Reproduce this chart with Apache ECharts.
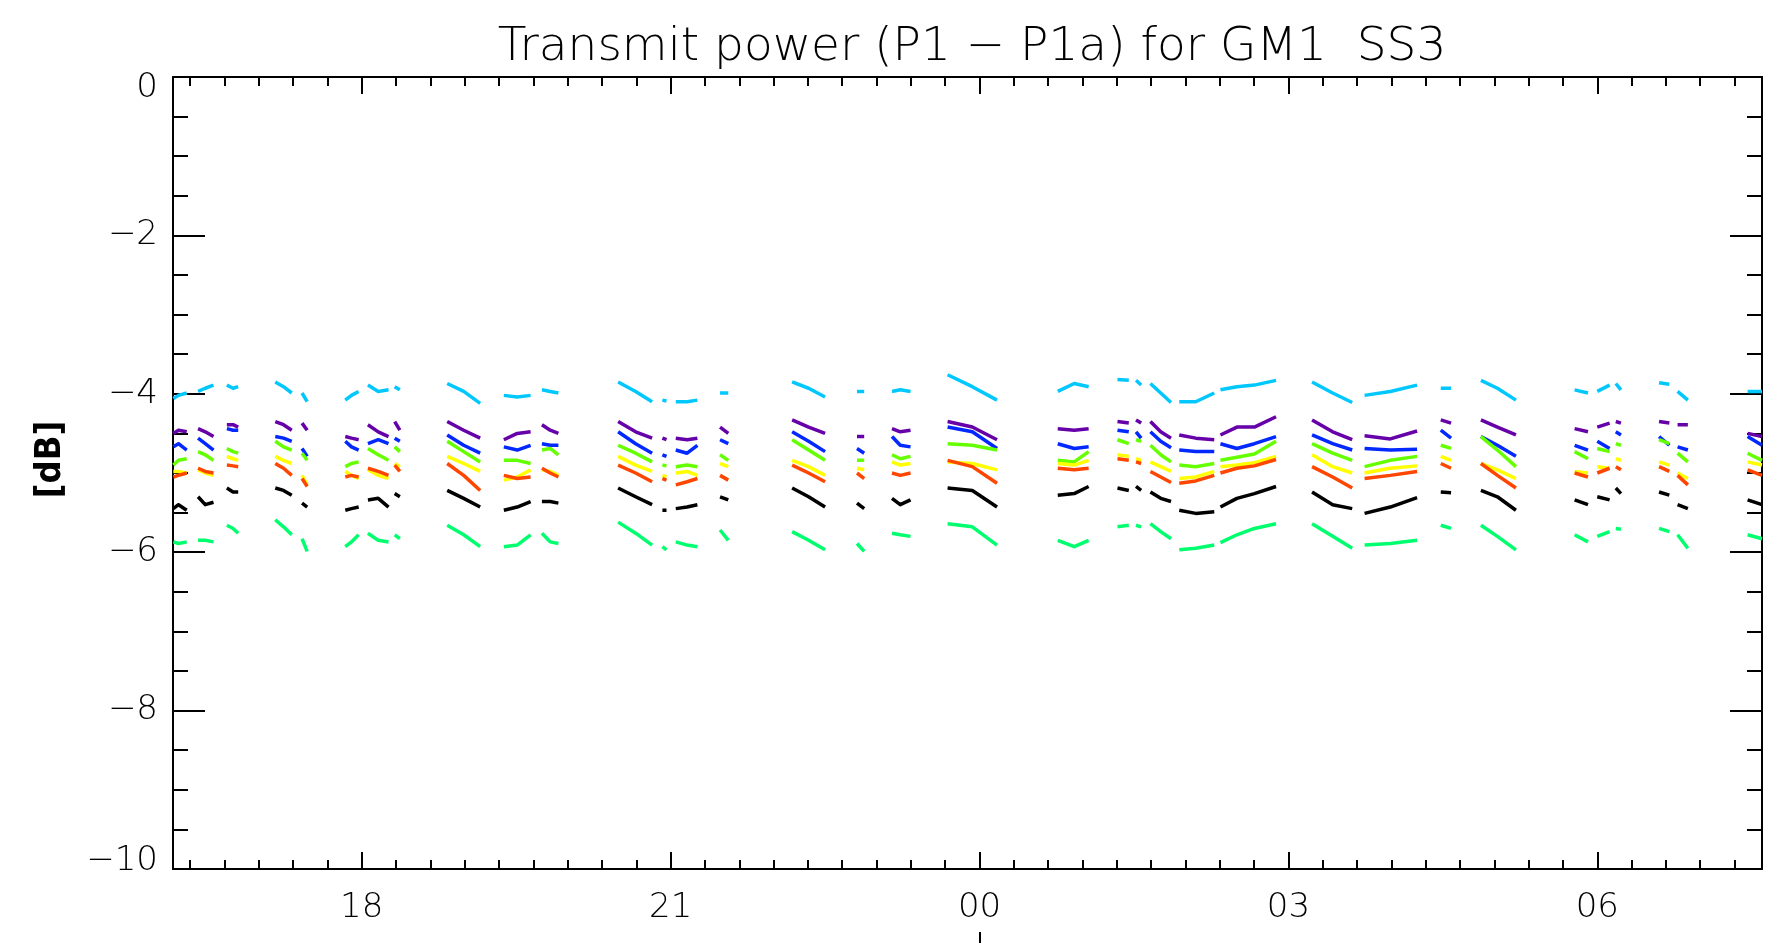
<!DOCTYPE html>
<html>
<head>
<meta charset="utf-8">
<script src="https://cdn.jsdelivr.net/npm/echarts@6/dist/echarts.min.js"></script>
<style>
html,body{margin:0;padding:0;background:#fff;}
#chart{width:1781px;height:945px;}
</style>
</head>
<body>
<div id="chart"></div>
<script>
// Time in hours relative to 00:00 (negative = previous evening)
const X_MIN = -7.8333;  // 16:10
const X_MAX = 7.6;      // 07:36
const majorTicks = [-6, -3, 0, 3, 6];
const majorTickLabels = ['18', '21', '00', '03', '06'];
const dayMarkTicks = [0];

// Sample times of each pass (hours)
const passTimes = [
  [-7.83,-7.78,-7.70],[-7.59,-7.52,-7.44],[-7.31,-7.25,-7.20],[-6.84,-6.76,-6.68],
  [-6.58,-6.53],[-6.16,-6.10,-6.03],[-5.94,-5.84,-5.74],[-5.68,-5.63],
  [-5.17,-5.01,-4.85],[-4.62,-4.49,-4.36],[-4.25,-4.17,-4.09],[-3.51,-3.34,-3.18],
  [-3.08,-3.04],[-2.95,-2.84,-2.74],[-2.52,-2.44],[-1.82,-1.66,-1.50],
  [-1.19,-1.12],[-0.85,-0.77,-0.67],[-0.31,-0.07,0.17],[0.76,0.92,1.06],
  [1.34,1.45],[1.52,1.57],[1.66,1.76,1.86],[1.94,2.10,2.28],
  [2.34,2.50,2.67,2.88],[3.23,3.43,3.62],[3.74,3.99,4.25],[4.48,4.58],
  [4.87,5.03,5.21],[5.78,5.91],[6.00,6.12],[6.18,6.23],
  [6.60,6.70],[6.78,6.88],[7.46,7.60]
];

const cyanDB = [
  [-4.06,-4.02,-3.99],[-3.97,-3.93,-3.89],[-3.89,-3.93,-3.91],[-3.85,-3.91,-3.99],
  [-3.99,-4.10],[-4.08,-4.02,-3.97],[-3.89,-3.97,-3.95],[-3.91,-3.95],
  [-3.87,-3.97,-4.12],[-4.02,-4.04,-4.02],[-3.95,-3.97,-3.99],[-3.85,-3.97,-4.10],
  [-4.08,-4.09],[-4.10,-4.10,-4.08],[-3.99,-3.99],[-3.85,-3.93,-4.04],
  [-3.97,-3.97],[-3.97,-3.95,-3.97],[-3.76,-3.91,-4.08],[-3.97,-3.87,-3.91],
  [-3.82,-3.83],[-3.83,-3.89],[-3.87,-3.99,-4.11],[-4.10,-4.10,-3.99],
  [-3.95,-3.91,-3.89,-3.83],[-3.85,-3.99,-4.11],[-4.02,-3.97,-3.89],[-3.93,-3.93],
  [-3.83,-3.93,-4.08],[-3.95,-3.99],[-3.97,-3.89],[-3.87,-3.95],
  [-3.86,-3.88],[-3.97,-4.08],[-3.97,-3.97]
];
const purpleDB = [
  [-4.50,-4.46,-4.48],[-4.44,-4.48,-4.54],[-4.39,-4.39,-4.42],[-4.35,-4.39,-4.46],
  [-4.37,-4.46],[-4.54,-4.56,-4.58],[-4.39,-4.48,-4.54],[-4.35,-4.46],
  [-4.35,-4.46,-4.56],[-4.58,-4.50,-4.48],[-4.39,-4.46,-4.50],[-4.35,-4.48,-4.56],
  [-4.56,-4.58],[-4.56,-4.58,-4.56],[-4.42,-4.50],[-4.33,-4.42,-4.50],
  [-4.54,-4.54],[-4.44,-4.48,-4.46],[-4.35,-4.42,-4.58],[-4.44,-4.46,-4.44],
  [-4.35,-4.37],[-4.33,-4.37],[-4.35,-4.48,-4.56],[-4.52,-4.56,-4.58],
  [-4.52,-4.42,-4.42,-4.29],[-4.33,-4.48,-4.58],[-4.53,-4.57,-4.47],[-4.33,-4.37],
  [-4.33,-4.42,-4.52],[-4.44,-4.48],[-4.42,-4.37],[-4.35,-4.37],
  [-4.35,-4.37],[-4.39,-4.39],[-4.50,-4.54]
];
const blueDB = [
  [-4.67,-4.63,-4.71],[-4.56,-4.63,-4.71],[-4.44,-4.46,-4.46],[-4.54,-4.56,-4.60],
  [-4.69,-4.79],[-4.60,-4.67,-4.71],[-4.63,-4.58,-4.63],[-4.56,-4.60],
  [-4.52,-4.65,-4.75],[-4.67,-4.71,-4.65],[-4.63,-4.65,-4.65],[-4.48,-4.63,-4.75],
  [-4.77,-4.79],[-4.71,-4.75,-4.65],[-4.58,-4.63],[-4.48,-4.60,-4.73],
  [-4.69,-4.75],[-4.54,-4.65,-4.67],[-4.42,-4.48,-4.69],[-4.63,-4.69,-4.67],
  [-4.46,-4.48],[-4.48,-4.56],[-4.48,-4.60,-4.68],[-4.71,-4.73,-4.73],
  [-4.63,-4.69,-4.63,-4.54],[-4.52,-4.63,-4.71],[-4.69,-4.71,-4.70],[-4.46,-4.56],
  [-4.54,-4.65,-4.79],[-4.65,-4.71],[-4.60,-4.69],[-4.48,-4.52],
  [-4.54,-4.65],[-4.67,-4.71],[-4.54,-4.65]
];
const greenDB = [
  [-4.90,-4.84,-4.82],[-4.73,-4.77,-4.84],[-4.69,-4.73,-4.75],[-4.60,-4.67,-4.71],
  [-4.75,-4.84],[-4.92,-4.88,-4.86],[-4.69,-4.77,-4.84],[-4.67,-4.73],
  [-4.60,-4.73,-4.86],[-4.84,-4.84,-4.88],[-4.71,-4.69,-4.77],[-4.65,-4.75,-4.86],
  [-4.90,-4.91],[-4.92,-4.90,-4.92],[-4.77,-4.84],[-4.58,-4.71,-4.84],
  [-4.84,-4.84],[-4.77,-4.82,-4.79],[-4.63,-4.65,-4.71],[-4.84,-4.86,-4.73],
  [-4.58,-4.63],[-4.58,-4.60],[-4.65,-4.77,-4.86],[-4.90,-4.92,-4.88],
  [-4.84,-4.80,-4.76,-4.60],[-4.63,-4.75,-4.84],[-4.92,-4.84,-4.79],[-4.65,-4.69],
  [-4.54,-4.71,-4.92],[-4.73,-4.82],[-4.69,-4.73],[-4.63,-4.65],
  [-4.58,-4.63],[-4.75,-4.86],[-4.75,-4.84]
];
const yellowDB = [
  [-4.98,-4.98,-5.00],[-4.96,-5.00,-5.03],[-4.79,-4.82,-4.84],[-4.79,-4.84,-4.88],
  [-5.03,-5.15],[-4.98,-5.03,-5.07],[-4.96,-5.03,-5.07],[-4.88,-4.92],
  [-4.79,-4.88,-4.98],[-5.09,-5.05,-4.96],[-4.96,-4.98,-5.03],[-4.79,-4.90,-4.98],
  [-5.03,-5.05],[-5.00,-4.98,-5.03],[-4.88,-4.92],[-4.84,-4.92,-5.03],
  [-4.94,-4.96],[-4.86,-4.90,-4.88],[-4.86,-4.88,-4.96],[-4.88,-4.90,-4.84],
  [-4.77,-4.79],[-4.82,-4.84],[-4.86,-4.92,-4.98],[-5.07,-5.05,-4.98],
  [-4.92,-4.90,-4.87,-4.79],[-4.77,-4.92,-5.00],[-5.00,-4.94,-4.91],[-4.79,-4.84],
  [-4.88,-4.96,-5.07],[-4.98,-5.00],[-4.92,-4.94],[-4.82,-4.84],
  [-4.86,-4.90],[-5.00,-5.07],[-4.86,-4.90]
];
const orangeDB = [
  [-5.05,-5.03,-5.00],[-4.94,-4.98,-5.00],[-4.90,-4.91,-4.92],[-4.88,-4.94,-5.03],
  [-5.07,-5.17],[-5.05,-5.03,-5.05],[-4.94,-4.98,-5.03],[-4.90,-4.98],
  [-4.88,-5.03,-5.22],[-5.03,-5.07,-5.05],[-4.94,-5.00,-5.05],[-4.90,-5.00,-5.11],
  [-5.07,-5.09],[-5.15,-5.11,-5.07],[-5.03,-5.09],[-4.90,-5.00,-5.11],
  [-5.00,-5.07],[-5.00,-5.03,-5.00],[-4.84,-4.92,-5.13],[-4.94,-4.96,-4.94],
  [-4.82,-4.84],[-4.86,-4.88],[-4.98,-5.05,-5.12],[-5.13,-5.10,-5.03],
  [-5.00,-4.94,-4.91,-4.83],[-4.92,-5.05,-5.19],[-5.07,-5.03,-4.98],[-4.88,-4.94],
  [-4.88,-5.03,-5.19],[-5.00,-5.05],[-5.00,-4.94],[-4.92,-4.96],
  [-4.92,-4.98],[-5.03,-5.15],[-4.96,-5.03]
];
const blackDB = [
  [-5.45,-5.40,-5.47],[-5.30,-5.40,-5.37],[-5.19,-5.24,-5.24],[-5.19,-5.22,-5.28],
  [-5.38,-5.43],[-5.47,-5.45,-5.43],[-5.34,-5.32,-5.43],[-5.26,-5.30],
  [-5.22,-5.32,-5.43],[-5.47,-5.43,-5.36],[-5.36,-5.36,-5.38],[-5.19,-5.30,-5.40],
  [-5.47,-5.47],[-5.45,-5.43,-5.40],[-5.30,-5.34],[-5.19,-5.30,-5.43],
  [-5.38,-5.45],[-5.32,-5.40,-5.34],[-5.19,-5.22,-5.43],[-5.28,-5.26,-5.17],
  [-5.19,-5.22],[-5.17,-5.22],[-5.24,-5.32,-5.36],[-5.47,-5.51,-5.49],
  [-5.43,-5.32,-5.26,-5.17],[-5.24,-5.40,-5.45],[-5.51,-5.43,-5.31],[-5.24,-5.25],
  [-5.22,-5.30,-5.47],[-5.34,-5.40],[-5.30,-5.34],[-5.19,-5.26],
  [-5.24,-5.28],[-5.40,-5.45],[-5.34,-5.40]
];
const springDB = [
  [-5.87,-5.89,-5.87],[-5.85,-5.85,-5.87],[-5.66,-5.70,-5.76],[-5.59,-5.68,-5.78],
  [-5.83,-5.99],[-5.93,-5.87,-5.78],[-5.76,-5.85,-5.87],[-5.78,-5.83],
  [-5.66,-5.78,-5.93],[-5.93,-5.91,-5.78],[-5.76,-5.87,-5.89],[-5.62,-5.76,-5.91],
  [-5.93,-5.97],[-5.87,-5.91,-5.93],[-5.72,-5.85],[-5.74,-5.85,-5.97],
  [-5.89,-5.99],[-5.76,-5.78,-5.80],[-5.64,-5.68,-5.91],[-5.85,-5.93,-5.85],
  [-5.68,-5.66],[-5.66,-5.68],[-5.64,-5.74,-5.83],[-5.97,-5.95,-5.91],
  [-5.88,-5.78,-5.70,-5.64],[-5.64,-5.80,-5.95],[-5.91,-5.89,-5.85],[-5.66,-5.70],
  [-5.66,-5.80,-5.97],[-5.78,-5.87],[-5.80,-5.74],[-5.70,-5.71],
  [-5.70,-5.74],[-5.78,-5.95],[-5.78,-5.83]
];

const seriesDefs = [
  {name: 'cyan',   color: '#00c8ff', vals: cyanDB},
  {name: 'purple', color: '#6600a8', vals: purpleDB},
  {name: 'blue',   color: '#0028ff', vals: blueDB},
  {name: 'green',  color: '#66ff00', vals: greenDB},
  {name: 'yellow', color: '#ffff00', vals: yellowDB},
  {name: 'orange', color: '#ff4600', vals: orangeDB},
  {name: 'black',  color: '#000000', vals: blackDB},
  {name: 'spring', color: '#00ff6e', vals: springDB}
];

function buildData(vals) {
  const out = [];
  passTimes.forEach((times, i) => {
    times.forEach((t, j) => out.push([t, vals[i][j]]));
    out.push([times[times.length - 1], '-']);
  });
  return out;
}

const minorTicks = [];
for (let k = -23; k <= 22; k++) { if (k % 9 !== 0) minorTicks.push(k / 3); }

const AX = '#000';
const lightFont = "'DejaVu Sans', sans-serif";
const labelStyle = {fontFamily: lightFont, fontWeight: 200, fontSize: 34, color: '#000'};

function xAxisBase(extra) {
  return Object.assign({
    type: 'value', min: X_MIN, max: X_MAX,
    splitLine: {show: false},
    axisLabel: {show: false},
    axisLine: {show: false, onZero: false}
  }, extra);
}

const chart = echarts.init(document.getElementById('chart'), null, {renderer: 'canvas'});
chart.setOption({
  animation: false,
  backgroundColor: '#fff',
  title: {
    text: 'Transmit power (P1 \u2212 P1a) for GM1  SS3',
    left: 967, top: 19, textAlign: 'center',
    textStyle: {fontFamily: lightFont, fontWeight: 200, fontSize: 47, color: '#000'}
  },
  grid: {left: 173, right: 19, top: 77, bottom: 76, outerBoundsMode: 'none', containLabel: false},
  xAxis: [
    xAxisBase({
      position: 'bottom',
      axisLine: {show: true, onZero: false, lineStyle: {color: AX, width: 2}},
      axisTick: {show: true, inside: true, length: 17, customValues: majorTicks, lineStyle: {color: AX, width: 2}},
      axisLabel: Object.assign({show: true, customValues: majorTicks, margin: 22,
        formatter: v => majorTickLabels[majorTicks.indexOf(Math.round(v))] || ''}, labelStyle)
    }),
    xAxisBase({position: 'bottom',
      axisTick: {show: true, inside: true, length: 9, customValues: minorTicks, lineStyle: {color: AX, width: 2}}}),
    xAxisBase({position: 'top',
      axisLine: {show: true, onZero: false, lineStyle: {color: AX, width: 2}},
      axisTick: {show: true, inside: true, length: 17, customValues: majorTicks, lineStyle: {color: AX, width: 2}}}),
    xAxisBase({position: 'top',
      axisTick: {show: true, inside: true, length: 9, customValues: minorTicks, lineStyle: {color: AX, width: 2}}}),
    xAxisBase({position: 'bottom', offset: 63,
      axisTick: {show: true, inside: false, length: 11, customValues: dayMarkTicks, lineStyle: {color: AX, width: 2}}})
  ],
  yAxis: [
    {
      type: 'value', min: -10, max: 0, interval: 2, position: 'left',
      name: '[dB]', nameLocation: 'middle', nameGap: 104,
      nameTextStyle: {fontFamily: "'DejaVu Sans Condensed', 'DejaVu Sans', sans-serif", fontWeight: 'bold',
        fontSize: 36, color: '#000', padding: [0, 0, 0, 27]},
      axisLine: {show: true, onZero: false, lineStyle: {color: AX, width: 2}},
      axisTick: {show: true, inside: true, length: 32, lineStyle: {color: AX, width: 2}},
      minorTick: {show: true, splitNumber: 4, length: 15, lineStyle: {color: AX, width: 2}},
      axisLabel: Object.assign({margin: 15,
        formatter: v => {
          const s = String(v).replace('-', '\u2212');
          if (v === 0) return '{hi|' + s + '}';
          if (v === -10) return '{lo|' + s + '}';
          return s;
        },
        rich: {
          hi: Object.assign({padding: [22, 0, 0, 0]}, labelStyle),
          lo: Object.assign({padding: [0, 0, 16, 0]}, labelStyle)
        }}, labelStyle),
      splitLine: {show: false}, minorSplitLine: {show: false}
    },
    {
      type: 'value', min: -10, max: 0, interval: 2, position: 'right',
      axisLine: {show: true, onZero: false, lineStyle: {color: AX, width: 2}},
      axisTick: {show: true, inside: true, length: 32, lineStyle: {color: AX, width: 2}},
      minorTick: {show: true, splitNumber: 4, length: 15, lineStyle: {color: AX, width: 2}},
      axisLabel: {show: false},
      splitLine: {show: false}, minorSplitLine: {show: false}
    }
  ],
  series: seriesDefs.map(s => ({
    name: s.name, type: 'line', xAxisIndex: 0, yAxisIndex: 0,
    data: buildData(s.vals),
    showSymbol: false, symbol: 'none', connectNulls: false,
    lineStyle: {color: s.color, width: 3.5, join: 'round'},
    itemStyle: {color: s.color},
    silent: true
  }))
});
</script>
</body>
</html>
